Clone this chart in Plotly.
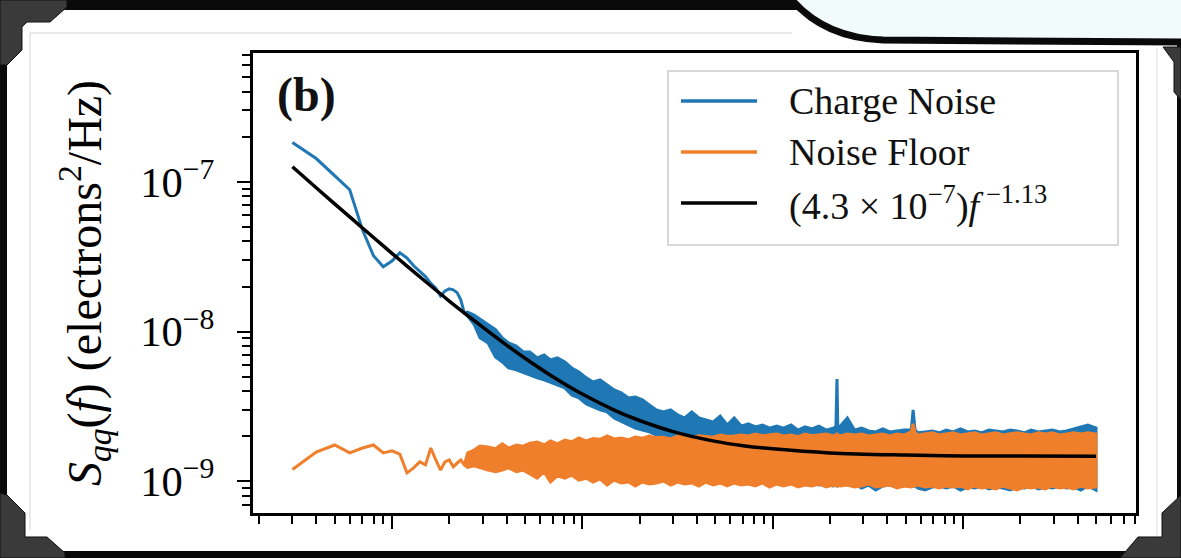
import plotly.graph_objects as go

# ---------------- data ----------------
# Resolved low-frequency part of both spectra (Hz)
f_low = [3, 4, 5, 6, 7, 8, 9, 10, 11, 12, 13, 14, 15, 16, 17, 18, 19, 20, 21, 22, 23, 24]
charge_low = [1.83e-7, 1.43e-7, 1.10e-7, 8.85e-8, 4.78e-8, 3.21e-8, 2.71e-8, 2.96e-8, 3.36e-8, 3.10e-8,
              2.75e-8, 2.52e-8, 2.33e-8, 2.10e-8, 1.95e-8, 1.73e-8, 1.87e-8, 1.93e-8, 1.90e-8, 1.82e-8,
              1.63e-8, 1.33e-8]
floor_low = [1.20e-9, 1.57e-9, 1.75e-9, 1.55e-9, 1.67e-9, 1.75e-9, 1.55e-9, 1.60e-9, 1.52e-9, 1.14e-9,
             1.23e-9, 1.35e-9, 1.29e-9, 1.67e-9, 1.39e-9, 1.19e-9, 1.35e-9, 1.39e-9, 1.25e-9, 1.33e-9,
             1.39e-9, 1.29e-9]

# Dense high-frequency part: upper / lower envelope of the noisy traces (Hz)
f_band = [25, 27, 29, 32, 35, 38, 41, 45, 49, 53,
          58, 63, 68, 74, 81, 88, 96, 105, 114, 124,
          135, 147, 160, 175, 190, 207, 225, 245, 267, 291,
          317, 345, 376, 410, 446, 486, 530, 577, 628, 684,
          745, 812, 885, 964, 1050, 1140, 1250, 1360, 1480, 1610,
          1750, 1910, 2080, 2150, 2178, 2200, 2270, 2470, 2690, 2930,
          3190, 3480, 3790, 4130, 4500, 4900, 5350, 5470, 5600, 5800,
          6320, 6890, 7500, 8170, 8900, 9700, 10600, 11500, 12500, 13700,
          14900, 16200, 17700, 19200, 21000, 22800, 24900, 27100, 29500, 32200,
          35000, 38200, 41600, 45300, 50000]
charge_hi = [1.35e-8, 1.29e-8, 1.21e-8, 1.11e-8, 1.03e-8, 9.07e-9, 8.40e-9, 8.02e-9, 7.32e-9, 7.32e-9,
             6.67e-9, 6.99e-9, 6.47e-9, 6.67e-9, 6.27e-9, 5.72e-9, 5.38e-9, 4.91e-9, 4.61e-9, 4.76e-9,
             4.41e-9, 4.08e-9, 3.90e-9, 3.61e-9, 3.66e-9, 3.50e-9, 3.24e-9, 3.00e-9, 2.91e-9, 3.00e-9,
             2.78e-9, 2.65e-9, 2.91e-9, 2.65e-9, 2.57e-9, 2.49e-9, 2.73e-9, 2.38e-9, 2.65e-9, 2.34e-9,
             2.42e-9, 2.31e-9, 2.38e-9, 2.27e-9, 2.34e-9, 2.27e-9, 2.38e-9, 2.20e-9, 2.31e-9, 2.24e-9,
             2.34e-9, 2.20e-9, 2.27e-9, 2.31e-9, 4.83e-9, 2.27e-9, 2.34e-9, 2.65e-9, 2.20e-9, 2.27e-9,
             2.17e-9, 2.14e-9, 2.24e-9, 2.14e-9, 2.17e-9, 2.20e-9, 2.20e-9, 3.00e-9, 2.20e-9, 2.11e-9,
             2.14e-9, 2.17e-9, 2.11e-9, 2.20e-9, 2.14e-9, 2.24e-9, 2.14e-9, 2.17e-9, 2.11e-9, 2.20e-9,
             2.17e-9, 2.14e-9, 2.20e-9, 2.17e-9, 2.11e-9, 2.20e-9, 2.14e-9, 2.17e-9, 2.20e-9, 2.14e-9,
             2.17e-9, 2.24e-9, 2.31e-9, 2.38e-9, 2.27e-9]
charge_lo = [1.27e-8, 1.12e-8, 9.10e-9, 8.40e-9, 6.78e-9, 6.27e-9, 5.72e-9, 5.55e-9, 5.38e-9, 5.14e-9,
             4.91e-9, 4.76e-9, 4.61e-9, 4.41e-9, 4.21e-9, 3.78e-9, 3.61e-9, 3.29e-9, 3.14e-9, 3.00e-9,
             2.91e-9, 2.65e-9, 2.53e-9, 2.38e-9, 2.27e-9, 2.20e-9, 2.14e-9, 2.04e-9, 1.98e-9, 1.95e-9,
             1.89e-9, 1.89e-9, 1.83e-9, 1.80e-9, 1.78e-9, 1.72e-9, 1.70e-9, 1.67e-9, 1.65e-9, 1.62e-9,
             1.57e-9, 1.50e-9, 1.39e-9, 1.29e-9, 1.19e-9, 1.10e-9, 1.02e-9, 0.99e-9, 0.961e-9, 0.976e-9,
             0.946e-9, 0.961e-9, 0.932e-9, 0.946e-9, 0.946e-9, 0.932e-9, 0.961e-9, 0.946e-9, 0.961e-9, 0.903e-9,
             0.946e-9, 0.876e-9, 0.932e-9, 0.946e-9, 0.917e-9, 0.946e-9, 0.932e-9, 0.932e-9, 0.932e-9, 0.903e-9,
             0.876e-9, 0.917e-9, 0.932e-9, 0.903e-9, 0.932e-9, 0.876e-9, 0.917e-9, 0.903e-9, 0.932e-9, 0.890e-9,
             0.917e-9, 0.903e-9, 0.876e-9, 0.917e-9, 0.903e-9, 0.932e-9, 0.890e-9, 0.917e-9, 0.903e-9, 0.932e-9,
             0.903e-9, 0.917e-9, 0.876e-9, 0.932e-9, 0.876e-9]
floor_hi = [1.55e-9, 1.62e-9, 1.72e-9, 1.70e-9, 1.65e-9, 1.78e-9, 1.67e-9, 1.75e-9, 1.72e-9, 1.80e-9,
            1.83e-9, 1.75e-9, 1.86e-9, 1.78e-9, 1.89e-9, 1.84e-9, 1.95e-9, 1.86e-9, 1.93e-9, 1.91e-9,
            2.01e-9, 1.92e-9, 1.95e-9, 1.90e-9, 1.98e-9, 1.94e-9, 2.01e-9, 1.96e-9, 1.97e-9, 1.92e-9,
            2.01e-9, 1.98e-9, 1.96e-9, 2.02e-9, 1.99e-9, 1.97e-9, 2.04e-9, 2.00e-9, 2.01e-9, 2.04e-9,
            2.01e-9, 2.07e-9, 2.02e-9, 2.04e-9, 2.07e-9, 2.01e-9, 2.04e-9, 1.99e-9, 2.07e-9, 2.02e-9,
            2.04e-9, 2.07e-9, 2.01e-9, 2.04e-9, 2.07e-9, 2.04e-9, 2.01e-9, 2.07e-9, 2.04e-9, 2.07e-9,
            2.01e-9, 2.04e-9, 2.07e-9, 2.01e-9, 2.07e-9, 2.04e-9, 2.14e-9, 2.42e-9, 2.11e-9, 2.04e-9,
            2.07e-9, 2.11e-9, 2.04e-9, 2.07e-9, 2.11e-9, 2.04e-9, 2.07e-9, 2.11e-9, 2.04e-9, 2.07e-9,
            2.11e-9, 2.04e-9, 2.07e-9, 2.11e-9, 2.07e-9, 2.04e-9, 2.11e-9, 2.07e-9, 2.11e-9, 2.04e-9,
            2.07e-9, 2.11e-9, 2.07e-9, 2.11e-9, 2.07e-9]
floor_lo = [1.24e-9, 1.27e-9, 1.23e-9, 1.19e-9, 1.16e-9, 1.19e-9, 1.23e-9, 1.16e-9, 1.19e-9, 1.12e-9,
            1.05e-9, 1.16e-9, 0.99e-9, 1.09e-9, 1.05e-9, 1.10e-9, 1.02e-9, 1.05e-9, 0.99e-9, 1.04e-9,
            0.946e-9, 1.02e-9, 0.976e-9, 0.99e-9, 0.932e-9, 0.99e-9, 0.961e-9, 0.976e-9, 1.006e-9, 0.946e-9,
            0.99e-9, 0.961e-9, 0.976e-9, 0.932e-9, 0.99e-9, 0.946e-9, 0.976e-9, 0.932e-9, 0.976e-9, 0.946e-9,
            0.961e-9, 0.932e-9, 0.976e-9, 0.917e-9, 0.961e-9, 0.932e-9, 0.961e-9, 0.917e-9, 0.946e-9, 0.932e-9,
            0.961e-9, 0.917e-9, 0.946e-9, 0.932e-9, 0.932e-9, 0.946e-9, 0.932e-9, 0.946e-9, 0.917e-9, 0.932e-9,
            0.961e-9, 0.917e-9, 0.932e-9, 0.946e-9, 0.903e-9, 0.932e-9, 0.917e-9, 0.932e-9, 0.932e-9, 0.946e-9,
            0.917e-9, 0.932e-9, 0.903e-9, 0.932e-9, 0.917e-9, 0.932e-9, 0.890e-9, 0.932e-9, 0.903e-9, 0.917e-9,
            0.890e-9, 0.932e-9, 0.903e-9, 0.876e-9, 0.917e-9, 0.903e-9, 0.917e-9, 0.890e-9, 0.932e-9, 0.903e-9,
            0.917e-9, 0.890e-9, 0.932e-9, 0.903e-9, 0.917e-9]

# Fitted curve (4.3e-7) f^-1.13
f_fit = [3, 4, 5, 6, 7, 8, 10, 12, 15, 20, 25, 30, 40, 50, 70, 100, 150, 200, 300, 500,
         700, 1000, 2000, 5000, 10000, 20000, 50000]
fit_vals = [1.26e-7, 9.13e-8, 7.13e-8, 5.83e-8, 4.92e-8, 4.25e-8, 3.33e-8, 2.74e-8, 2.16e-8, 1.60e-8,
            1.28e-8, 1.07e-8, 8.12e-9, 6.64e-9, 5.00e-9, 3.83e-9, 2.96e-9, 2.55e-9, 2.15e-9, 1.85e-9,
            1.73e-9, 1.65e-9, 1.55e-9, 1.50e-9, 1.48e-9, 1.476e-9, 1.47e-9]

series_names = ["Charge Noise", "Noise Floor", "(4.3 × 10<sup>−7</sup>)<i>f</i><sup> −1.13</sup>"]
y_title = "<i>S<sub>qq</sub></i>(<i>f</i>) (electrons<sup>2</sup>/Hz)"

# ---------------- styling ----------------
BLUE, ORANGE, BLACK = "#1f77b4", "#f07f2c", "#000000"
FONT = "Liberation Serif"
W, H = 1181, 558
ML, MR, MT, MB = 253, 45, 53, 45
PW, PH = W - ML - MR, H - MT - MB


def px(x):
    return (x - ML) / PW


def py(y):
    return (H - MB - y) / PH


def band_polygon(fl, low, fb, hi, lo):
    xs = list(fl) + list(fb) + list(fb)[::-1] + list(fl)[::-1]
    ys = list(low) + list(hi) + list(lo)[::-1] + list(low)[::-1]
    return xs, ys


fig = go.Figure()
cx, cy = band_polygon(f_low, charge_low, f_band, charge_hi, charge_lo)
fig.add_trace(go.Scatter(x=cx, y=cy, mode="lines", fill="toself", fillcolor=BLUE,
                         line=dict(color=BLUE, width=3), name=series_names[0], showlegend=False))
nx, ny = band_polygon(f_low, floor_low, f_band, floor_hi, floor_lo)
fig.add_trace(go.Scatter(x=nx, y=ny, mode="lines", fill="toself", fillcolor=ORANGE,
                         line=dict(color=ORANGE, width=3), name=series_names[1], showlegend=False))
fig.add_trace(go.Scatter(x=f_fit, y=fit_vals, mode="lines", line=dict(color=BLACK, width=3.5, shape="spline"),
                         name="fit", showlegend=False))

axis_common = dict(type="log", showline=True, linecolor="black", linewidth=2.5, mirror=True,
                   ticks="outside", ticklen=13, tickwidth=2, tickcolor="black", showgrid=False,
                   zeroline=False, dtick=1,
                   minor=dict(ticks="outside", ticklen=8, tickwidth=1.5, tickcolor="black",
                              dtick="D1", showgrid=False))

fig.update_xaxes(range=[0.270, 4.909], showticklabels=False, **axis_common)
fig.update_yaxes(range=[-9.211, -6.140], exponentformat="power", showexponent="all",
                 tickfont=dict(family=FONT, size=34, color="black"), ticklabelstandoff=16,
                 title=dict(text=y_title, font=dict(family=FONT, size=48, color="black"), standoff=24),
                 **axis_common)

shapes = []
# manual legend
shapes.append(dict(type="rect", xref="paper", yref="paper", x0=px(668), x1=px(1118), y0=py(245), y1=py(71),
                   fillcolor="rgba(255,255,255,0.85)", line=dict(color="#cccccc", width=1.5), layer="above"))
rows = [101, 152, 203]
colors = [BLUE, ORANGE, BLACK]
annotations = []
for r, c, t in zip(rows, colors, series_names):
    shapes.append(dict(type="line", xref="paper", yref="paper", x0=px(681), x1=px(757), y0=py(r), y1=py(r),
                       line=dict(color=c, width=3.5), layer="above"))
    annotations.append(dict(x=px(787), y=py(r), xref="paper", yref="paper", xanchor="left", yanchor="middle",
                            text=t, showarrow=False, font=dict(family=FONT, size=38, color="#111")))
annotations.append(dict(x=px(306), y=py(95), xref="paper", yref="paper", xanchor="center", yanchor="middle",
                        text="<b>(b)</b>", showarrow=False, font=dict(family=FONT, size=48, color="#111")))

# screenshot frame decoration
FR = "#0a0a0a"


def rect(x0, y0, x1, y1, color):
    return dict(type="rect", xref="paper", yref="paper", x0=px(x0), x1=px(x1), y0=py(y1), y1=py(y0),
                fillcolor=color, line=dict(width=0), layer="above")


def poly(points, fill, line="#111111", close=True, width=1):
    d = "M" + " L".join(f"{px(a):.5f},{py(b):.5f}" for a, b in points) + (" Z" if close else "")
    return dict(type="path", xref="paper", yref="paper", path=d, fillcolor=fill,
                line=dict(color=line, width=width), layer="above")


shapes += [rect(0, 0, W, 10, FR), rect(0, 0, 7, H, FR), rect(0, 551, W, H, FR), rect(1177, 0, W, H, FR)]
cyan = (f"M{px(792)},{py(0)} Q{px(825)},{py(38)} {px(883)},{py(40)} L{px(1181)},{py(42)} "
        f"L{px(1181)},{py(0)} Z")
shapes.append(dict(type="path", xref="paper", yref="paper", path=cyan, fillcolor="#f2fbfb",
                   line=dict(width=0), layer="above"))
curve = f"M{px(792)},{py(0)} Q{px(825)},{py(38)} {px(883)},{py(40)} L{px(1181)},{py(42)}"
shapes.append(dict(type="path", xref="paper", yref="paper", path=curve, line=dict(color=FR, width=7),
                   layer="above"))
shapes.append(dict(type="line", xref="paper", yref="paper", x0=px(30), x1=px(792), y0=py(33), y1=py(33),
                   line=dict(color="#d4d4d4", width=1), layer="above"))
shapes.append(dict(type="line", xref="paper", yref="paper", x0=px(30), x1=px(30), y0=py(33), y1=py(530),
                   line=dict(color="#d4d4d4", width=1), layer="above"))
shapes.append(dict(type="line", xref="paper", yref="paper", x0=px(1157), x1=px(1157), y0=py(48), y1=py(545),
                   line=dict(color="#dddddd", width=1), layer="above"))
shapes.append(poly([(0, 0), (67, 0), (67, 7), (50, 22), (27, 22), (22, 27), (22, 50), (7, 65), (0, 65)],
                   "#3a3a3a"))
shapes.append(poly([(0, 493), (7, 495), (25, 513), (25, 537), (47, 537), (65, 553), (65, 558), (0, 558)],
                   "#3a3a3a"))
shapes.append(poly([(1181, 495), (1162, 513), (1162, 537), (1138, 537), (1120, 558), (1181, 558)],
                   "#3a3a3a"))
shapes.append(poly([(1163, 47), (1181, 47), (1181, 100), (1174, 92), (1174, 62)], "#3a3a3a"))

fig.update_layout(width=W, height=H, margin=dict(l=ML, r=MR, t=MT, b=MB, autoexpand=False),
                  paper_bgcolor="white", plot_bgcolor="white", showlegend=False,
                  shapes=shapes, annotations=annotations,
                  font=dict(family=FONT, color="black"))
fig.write_html("out.html")
